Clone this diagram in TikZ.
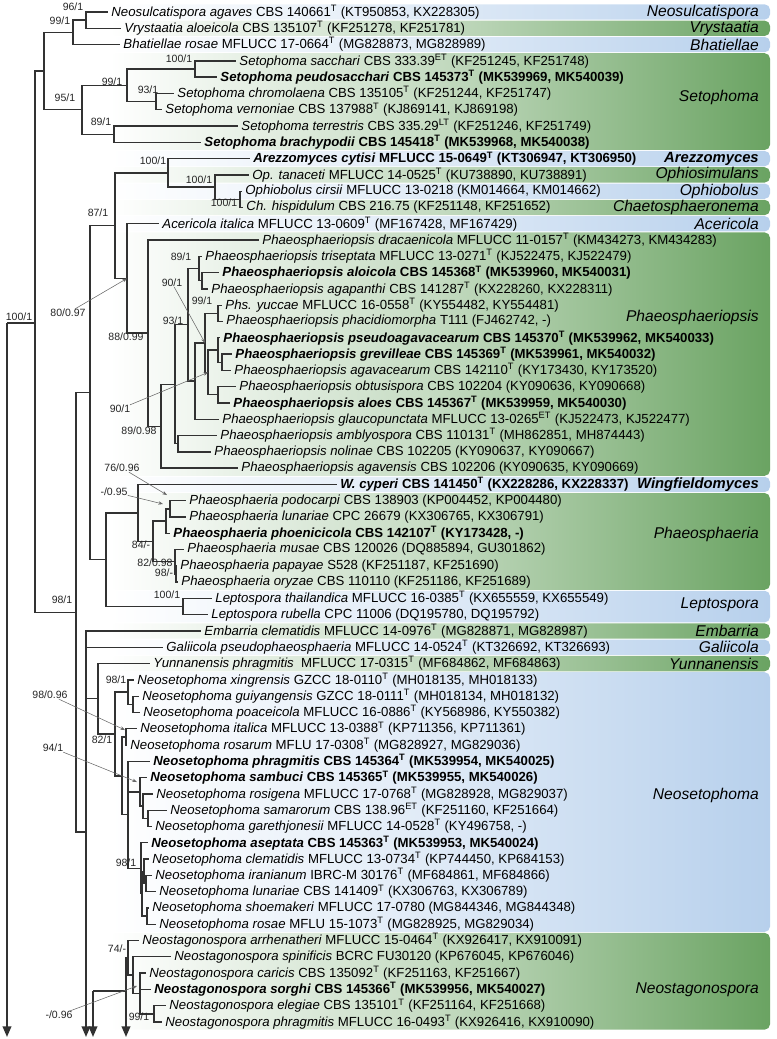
\documentclass[tikz,border=0pt]{standalone}
\usepackage{fontspec}
\setmainfont{Liberation Sans}
\usetikzlibrary{arrows.meta}
\definecolor{cladegreen}{RGB}{106,163,98}
\definecolor{cladeblue}{RGB}{183,208,236}
\definecolor{branchgray}{RGB}{50,50,50}

\begin{document}
\begin{tikzpicture}[x=0.75pt, y={(0pt,-12.2175pt)},
    br/.style={draw=branchgray, line width=1pt},
    down/.style={draw=branchgray, line width=1.3pt, -{Triangle[length=8pt,width=6.5pt]}},
    lead/.style={draw=black!60, line width=0.4pt, -{Stealth[length=3.5pt,width=2.6pt]}},
    tx/.style={anchor=west, inner xsep=2.4pt, inner ysep=0pt, font=\fontsize{9.9}{12}\selectfont},
    txb/.style={tx, font=\fontsize{9.9}{12}\selectfont\bfseries},
    bs/.style={inner sep=0pt, font=\fontsize{7.9}{9}\selectfont, text=black!85},
    clade/.style={anchor=east, inner sep=0pt, font=\fontsize{11.7}{14}\selectfont\itshape},
    cladeb/.style={clade, font=\fontsize{11.1}{14}\selectfont\bfseries\itshape},
    greenbox/.style={left color=white, right color=cladegreen, middle color=cladegreen!40!white, rounded corners=4pt},
    bluebox/.style={left color=white, right color=cladeblue, middle color=cladeblue!45!white, rounded corners=4pt}]

    \useasboundingbox (0,0.2634) rectangle (776,64.045);

    % Genus boxes
    \shade[bluebox] (110,0.53) rectangle (770,1.47);
    \shade[greenbox] (110,1.53) rectangle (770,2.47);
    \shade[bluebox] (110,2.53) rectangle (770,3.47);
    \shade[greenbox] (110,3.53) rectangle (770,9.47);
    \shade[bluebox] (110,9.53) rectangle (770,10.47);
    \shade[greenbox] (110,10.53) rectangle (770,11.47);
    \shade[bluebox] (110,11.53) rectangle (770,12.47);
    \shade[greenbox] (110,12.53) rectangle (770,13.47);
    \shade[bluebox] (110,13.53) rectangle (770,14.47);
    \shade[greenbox] (110,14.53) rectangle (770,29.47);
    \shade[bluebox] (110,29.53) rectangle (770,30.47);
    \shade[greenbox] (110,30.53) rectangle (770,36.47);
    \shade[bluebox] (110,36.53) rectangle (770,38.47);
    \shade[greenbox] (110,38.53) rectangle (770,39.47);
    \shade[bluebox] (110,39.53) rectangle (770,40.47);
    \shade[greenbox] (110,40.53) rectangle (770,41.47);
    \shade[bluebox] (110,41.53) rectangle (770,57.47);
    \shade[greenbox] (110,57.53) rectangle (770,63.47);

    % Genus names
    \node[clade] (g1) at (759,1) {Neosulcatispora};
    \node[clade] (g2) at (759,2) {Vrystaatia};
    \node[clade] (g3) at (759,3) {Bhatiellae};
    \node[clade] (g4) at (759,6.218) {Setophoma};
    \node[cladeb] (g5) at (759,10) {Arezzomyces};
    \node[clade] (g6) at (759,11) {Ophiosimulans};
    \node[clade] (g7) at (759,12) {Ophiobolus};
    \node[clade] (g8) at (759,13) {Chaetosphaeronema};
    \node[clade] (g9) at (759,14) {Acericola};
    \node[clade] (g10) at (759,19.723) {Phaeosphaeriopsis};
    \node[cladeb] (g11) at (759,30) {Wingfieldomyces};
    \node[clade] (g12) at (759,33.1) {Phaeosphaeria};
    \node[clade] (g13) at (759,37.4) {Leptospora};
    \node[clade] (g14) at (759,39) {Embarria};
    \node[clade] (g15) at (759,40) {Galiicola};
    \node[clade] (g16) at (759,41) {Yunnanensis};
    \node[clade] (g17) at (759,49.07) {Neosetophoma};
    \node[clade] (g18) at (759,61.04) {Neostagonospora};

    % Taxa
    \node[tx] (t1) at (108,1) {\textit{Neosulcatispora agaves} CBS 140661\textsuperscript{T} (KT950853, KX228305)};
    \node[tx] (t2) at (121,2) {\textit{Vrystaatia aloeicola} CBS 135107\textsuperscript{T} (KF251278, KF251781)};
    \node[tx] (t3) at (120,3) {\textit{Bhatiellae rosae} MFLUCC 17-0664\textsuperscript{T} (MG828873, MG828989)};
    \node[tx] (t4) at (236,4) {\textit{Setophoma sacchari} CBS 333.39\textsuperscript{ET} (KF251245, KF251748)};
    \node[txb] (t5) at (217,5) {\textit{Setophoma peudosacchari} CBS 145373\textsuperscript{T} (MK539969, MK540039)};
    \node[tx] (t6) at (174,6) {\textit{Setophoma chromolaena} CBS 135105\textsuperscript{T} (KF251244, KF251747)};
    \node[tx] (t7) at (162,7) {\textit{Setophoma vernoniae} CBS 137988\textsuperscript{T} (KJ869141, KJ869198)};
    \node[tx] (t8) at (238,8) {\textit{Setophoma terrestris} CBS 335.29\textsuperscript{LT} (KF251246, KF251749)};
    \node[txb] (t9) at (201,9) {\textit{Setophoma brachypodii} CBS 145418\textsuperscript{T} (MK539968, MK540038)};
    \node[txb] (t10) at (250,10) {\textit{Arezzomyces cytisi} MFLUCC 15-0649\textsuperscript{T} (KT306947, KT306950)};
    \node[tx] (t11) at (249,11) {\textit{Op. tanaceti} MFLUCC 14-0525\textsuperscript{T} (KU738890, KU738891)};
    \node[tx] (t12) at (242,12) {\textit{Ophiobolus cirsii} MFLUCC 13-0218 (KM014664, KM014662)};
    \node[tx] (t13) at (243,13) {\textit{Ch. hispidulum} CBS 216.75 (KF251148, KF251652)};
    \node[tx] (t14) at (159,14) {\textit{Acericola italica} MFLUCC 13-0609\textsuperscript{T} (MF167428, MF167429)};
    \node[tx] (t15) at (259,15) {\textit{Phaeosphaeriopsis dracaenicola} MFLUCC 11-0157\textsuperscript{T} (KM434273, KM434283)};
    \node[tx] (t16) at (202,16) {\textit{Phaeosphaeriopsis triseptata} MFLUCC 13-0271\textsuperscript{T} (KJ522475, KJ522479)};
    \node[txb] (t17) at (219,17) {\textit{Phaeosphaeriopsis aloicola} CBS 145368\textsuperscript{T} (MK539960, MK540031)};
    \node[tx] (t18) at (208,18) {\textit{Phaeosphaeriopsis agapanthi} CBS 141287\textsuperscript{T} (KX228260, KX228311)};
    \node[tx] (t19) at (222,19) {\textit{Phs. yuccae} MFLUCC 16-0558\textsuperscript{T} (KY554482, KY554481)};
    \node[tx] (t20) at (223,20) {\textit{Phaeosphaeriopsis phacidiomorpha} T111 (FJ462742, -)};
    \node[txb] (t21) at (220,21) {\textit{Phaeosphaeriopsis pseudoagavacearum} CBS 145370\textsuperscript{T} (MK539962, MK540033)};
    \node[txb] (t22) at (232,22) {\textit{Phaeosphaeriopsis grevilleae} CBS 145369\textsuperscript{T} (MK539961, MK540032)};
    \node[tx] (t23) at (231,23) {\textit{Phaeosphaeriopsis agavacearum} CBS 142110\textsuperscript{T} (KY173430, KY173520)};
    \node[tx] (t24) at (236,24) {\textit{Phaeosphaeriopsis obtusispora} CBS 102204 (KY090636, KY090668)};
    \node[txb] (t25) at (230,25) {\textit{Phaeosphaeriopsis aloes} CBS 145367\textsuperscript{T} (MK539959, MK540030)};
    \node[tx] (t26) at (219,26) {\textit{Phaeosphaeriopsis glaucopunctata} MFLUCC 13-0265\textsuperscript{ET} (KJ522473, KJ522477)};
    \node[tx] (t27) at (217,27) {\textit{Phaeosphaeriopsis amblyospora} CBS 110131\textsuperscript{T} (MH862851, MH874443)};
    \node[tx] (t28) at (211,28) {\textit{Phaeosphaeriopsis nolinae} CBS 102205 (KY090637, KY090667)};
    \node[tx] (t29) at (238,29) {\textit{Phaeosphaeriopsis agavensis} CBS 102206 (KY090635, KY090669)};
    \node[txb] (t30) at (337,30) {\textit{W. cyperi} CBS 141450\textsuperscript{T} (KX228286, KX228337)};
    \node[tx] (t31) at (186,31) {\textit{Phaeosphaeria podocarpi} CBS 138903 (KP004452, KP004480)};
    \node[tx] (t32) at (186,32) {\textit{Phaeosphaeria lunariae} CPC 26679 (KX306765, KX306791)};
    \node[txb] (t33) at (170,33) {\textit{Phaeosphaeria phoenicicola} CBS 142107\textsuperscript{T} (KY173428, -)};
    \node[tx] (t34) at (184,34) {\textit{Phaeosphaeria musae} CBS 120026 (DQ885894, GU301862)};
    \node[tx] (t35) at (177,35) {\textit{Phaeosphaeria papayae} S528 (KF251187, KF251690)};
    \node[tx] (t36) at (178,36) {\textit{Phaeosphaeria oryzae} CBS 110110 (KF251186, KF251689)};
    \node[tx] (t37) at (212,37) {\textit{Leptospora thailandica} MFLUCC 16-0385\textsuperscript{T} (KX655559, KX655549)};
    \node[tx] (t38) at (208,38) {\textit{Leptospora rubella} CPC 11006 (DQ195780, DQ195792)};
    \node[tx] (t39) at (201,39) {\textit{Embarria clematidis} MFLUCC 14-0976\textsuperscript{T} (MG828871, MG828987)};
    \node[tx] (t40) at (163,40) {\textit{Galiicola pseudophaeosphaeria} MFLUCC 14-0524\textsuperscript{T} (KT326692, KT326693)};
    \node[tx] (t41) at (150,41) {\textit{Yunnanensis phragmitis}~ MFLUCC 17-0315\textsuperscript{T} (MF684862, MF684863)};
    \node[tx] (t42) at (134,42) {\textit{Neosetophoma xingrensis} GZCC 18-0110\textsuperscript{T} (MH018135, MH018133)};
    \node[tx] (t43) at (139,43) {\textit{Neosetophoma guiyangensis} GZCC 18-0111\textsuperscript{T} (MH018134, MH018132)};
    \node[tx] (t44) at (140,44) {\textit{Neosetophoma poaceicola} MFLUCC 16-0886\textsuperscript{T} (KY568986, KY550382)};
    \node[tx] (t45) at (137,45) {\textit{Neosetophoma italica} MFLUCC 13-0388\textsuperscript{T} (KP711356, KP711361)};
    \node[tx] (t46) at (127,46) {\textit{Neosetophoma rosarum} MFLU 17-0308\textsuperscript{T} (MG828927, MG829036)};
    \node[txb] (t47) at (150,47) {\textit{Neosetophoma phragmitis} CBS 145364\textsuperscript{T} (MK539954, MK540025)};
    \node[txb] (t48) at (147,48) {\textit{Neosetophoma sambuci} CBS 145365\textsuperscript{T} (MK539955, MK540026)};
    \node[tx] (t49) at (153,49) {\textit{Neosetophoma rosigena} MFLUCC 17-0768\textsuperscript{T} (MG828928, MG829037)};
    \node[tx] (t50) at (167,50) {\textit{Neosetophoma samarorum} CBS 138.96\textsuperscript{ET} (KF251160, KF251664)};
    \node[tx] (t51) at (152,51) {\textit{Neosetophoma garethjonesii} MFLUCC 14-0528\textsuperscript{T} (KY496758, -)};
    \node[txb] (t52) at (148,52) {\textit{Neosetophoma aseptata} CBS 145363\textsuperscript{T} (MK539953, MK540024)};
    \node[tx] (t53) at (149,53) {\textit{Neosetophoma clematidis} MFLUCC 13-0734\textsuperscript{T} (KP744450, KP684153)};
    \node[tx] (t54) at (152,54) {\textit{Neosetophoma iranianum} IBRC-M 30176\textsuperscript{T} (MF684861, MF684866)};
    \node[tx] (t55) at (156,55) {\textit{Neosetophoma lunariae} CBS 141409\textsuperscript{T} (KX306763, KX306789)};
    \node[tx] (t56) at (149,56) {\textit{Neosetophoma shoemakeri} MFLUCC 17-0780 (MG844346, MG844348)};
    \node[tx] (t57) at (156,57) {\textit{Neosetophoma rosae} MFLU 15-1073\textsuperscript{T} (MG828925, MG829034)};
    \node[tx] (t58) at (139,58) {\textit{Neostagonospora arrhenatheri} MFLUCC 15-0464\textsuperscript{T} (KX926417, KX910091)};
    \node[tx] (t59) at (171,59) {\textit{Neostagonospora spinificis} BCRC FU30120 (KP676045, KP676046)};
    \node[tx] (t60) at (146,60) {\textit{Neostagonospora caricis} CBS 135092\textsuperscript{T} (KF251163, KF251667)};
    \node[txb] (t61) at (151,61) {\textit{Neostagonospora sorghi} CBS 145366\textsuperscript{T} (MK539956, MK540027)};
    \node[tx] (t62) at (166,62) {\textit{Neostagonospora elegiae} CBS 135101\textsuperscript{T} (KF251164, KF251668)};
    \node[tx] (t63) at (162,63) {\textit{Neostagonospora phragmitis} MFLUCC 16-0493\textsuperscript{T} (KX926416, KX910090)};

    % Internal nodes
    \coordinate (root0) at (7,20.09);
    \coordinate (root) at (35,20.09);
    \coordinate (n1) at (44,4.625);
    \coordinate (n2) at (73,2.25);
    \coordinate (n3) at (86,1.5);
    \coordinate (n4) at (82,7);
    \coordinate (n5) at (127,5.5);
    \coordinate (n6) at (195,4.5);
    \coordinate (n7) at (156,6.5);
    \coordinate (n8) at (114,8.5);
    \coordinate (n98) at (76,37.855);
    \coordinate (p) at (90,24.37);
    \coordinate (n87) at (115,14.116);
    \coordinate (ar) at (168,10.875);
    \coordinate (op) at (215,11.75);
    \coordinate (oc) at (240,12.5);
    \coordinate (x) at (127,17.357);
    \coordinate (y) at (148,20.713);
    \coordinate (z) at (161,26.426);
    \coordinate (z1) at (175,23.852);
    \coordinate (an) at (178,27.5);
    \coordinate (z2) at (188,20.203);
    \coordinate (tt) at (199,16.75);
    \coordinate (tt2) at (202,17.5);
    \coordinate (u) at (195,23.656);
    \coordinate (v) at (205,21.3125);
    \coordinate (y99) at (218,19.5);
    \coordinate (v2) at (208,23.125);
    \coordinate (g) at (218,21.75);
    \coordinate (g2) at (222,22.5);
    \coordinate (o) at (218,24.5);
    \coordinate (r) at (106,34.625);
    \coordinate (w) at (138,31.75);
    \coordinate (ph) at (153,33.5);
    \coordinate (pl) at (166,32.25);
    \coordinate (pp) at (170,31.5);
    \coordinate (pm) at (175,34.75);
    \coordinate (po) at (176,35.5);
    \coordinate (lep) at (183,37.5);
    \coordinate (q) at (86,51.34);
    \coordinate (yn) at (98,43.16);
    \coordinate (ns) at (115,45.32);
    \coordinate (x98) at (128,42.75);
    \coordinate (gp) at (133,43.5);
    \coordinate (m) at (122,47.89);
    \coordinate (ir) at (126,45.5);
    \coordinate (ps) at (128,50.28);
    \coordinate (sb) at (140,48.875);
    \coordinate (rs) at (143,49.75);
    \coordinate (sr) at (148,50.5);
    \coordinate (ag) at (141,53.5625);
    \coordinate (ag2) at (142,55.125);
    \coordinate (c98) at (144,53.75);
    \coordinate (il) at (146,54.5);
    \coordinate (sro) at (147,56.5);
    \coordinate (k93) at (93,61.1);
    \coordinate (k126) at (126,61.1);
    \coordinate (na) at (128,59.06);
    \coordinate (nb) at (133,60.125);
    \coordinate (nc) at (140,61.25);
    \coordinate (ne) at (154,62.5);
    \coordinate (end1) at (7,63.92);
    \coordinate (end2) at (86,63.92);
    \coordinate (end3) at (93,63.92);
    \coordinate (end4) at (126,63.92);

    % Branches
    \draw[br] (root) -- (root0);
    \draw[down] (root0) -- (end1);
    \draw[br] (root) |- (n1);
    \draw[br] (root) |- (n98);
    \draw[br] (n1) |- (n2);
    \draw[br] (n1) |- (n4);
    \draw[br] (n2) |- (n3);
    \draw[br] (n2) |- (t3.west);
    \draw[br] (n3) |- (t1.west);
    \draw[br] (n3) |- (t2.west);
    \draw[br] (n4) |- (n5);
    \draw[br] (n4) |- (n8);
    \draw[br] (n5) |- (n6);
    \draw[br] (n5) |- (n7);
    \draw[br] (n6) |- (t4.west);
    \draw[br] (n6) |- (t5.west);
    \draw[br] (n7) |- (t6.west);
    \draw[br] (n7) |- (t7.west);
    \draw[br] (n8) |- (t8.west);
    \draw[br] (n8) |- (t9.west);
    \draw[br] (n98) |- (p);
    \draw[br] (n98) |- (q);
    \draw[br] (p) |- (n87);
    \draw[br] (p) |- (r);
    \draw[br] (n87) |- (ar);
    \draw[br] (n87) |- (x);
    \draw[br] (ar) |- (t10.west);
    \draw[br] (ar) |- (op);
    \draw[br] (op) |- (t11.west);
    \draw[br] (op) |- (oc);
    \draw[br] (oc) |- (t12.west);
    \draw[br] (oc) |- (t13.west);
    \draw[br] (x) |- (t14.west);
    \draw[br] (x) |- (y);
    \draw[br] (y) |- (t15.west);
    \draw[br] (y) |- (z);
    \draw[br] (z) |- (z1);
    \draw[br] (z) |- (t29.west);
    \draw[br] (z1) |- (z2);
    \draw[br] (z1) |- (an);
    \draw[br] (an) |- (t27.west);
    \draw[br] (an) |- (t28.west);
    \draw[br] (z2) |- (tt);
    \draw[br] (z2) |- (u);
    \draw[br] (tt) |- (t16.west);
    \draw[br] (tt) |- (tt2);
    \draw[br] (tt2) |- (t17.west);
    \draw[br] (tt2) |- (t18.west);
    \draw[br] (u) |- (v);
    \draw[br] (u) |- (t26.west);
    \draw[br] (v) |- (y99);
    \draw[br] (v) |- (v2);
    \draw[br] (y99) |- (t19.west);
    \draw[br] (y99) |- (t20.west);
    \draw[br] (v2) |- (g);
    \draw[br] (v2) |- (o);
    \draw[br] (g) |- (t21.west);
    \draw[br] (g) |- (g2);
    \draw[br] (g2) |- (t22.west);
    \draw[br] (g2) |- (t23.west);
    \draw[br] (o) |- (t24.west);
    \draw[br] (o) |- (t25.west);
    \draw[br] (r) |- (w);
    \draw[br] (r) |- (lep);
    \draw[br] (w) |- (t30.west);
    \draw[br] (w) |- (ph);
    \draw[br] (ph) |- (pl);
    \draw[br] (ph) |- (pm);
    \draw[br] (pl) |- (pp);
    \draw[br] (pl) |- (t33.west);
    \draw[br] (pp) |- (t31.west);
    \draw[br] (pp) |- (t32.west);
    \draw[br] (pm) |- (t34.west);
    \draw[br] (pm) |- (po);
    \draw[br] (po) |- (t35.west);
    \draw[br] (po) |- (t36.west);
    \draw[br] (lep) |- (t37.west);
    \draw[br] (lep) |- (t38.west);
    \draw[br] (q) |- (t39.west);
    \draw[br] (q) |- (t40.west);
    \draw[br] (q) |- (yn);
    \draw[down] (q) -- (end2);
    \draw[br] (yn) |- (t41.west);
    \draw[br] (yn) |- (ns);
    \draw[br] (ns) |- (x98);
    \draw[br] (ns) |- (m);
    \draw[br] (x98) |- (t42.west);
    \draw[br] (x98) |- (gp);
    \draw[br] (gp) |- (t43.west);
    \draw[br] (gp) |- (t44.west);
    \draw[br] (m) |- (ir);
    \draw[br] (m) |- (ps);
    \draw[br] (ir) |- (t45.west);
    \draw[br] (ir) |- (t46.west);
    \draw[br] (ps) |- (t47.west);
    \draw[br] (ps) |- (sb);
    \draw[br] (ps) |- (ag);
    \draw[br] (sb) |- (t48.west);
    \draw[br] (sb) |- (rs);
    \draw[br] (rs) |- (t49.west);
    \draw[br] (rs) |- (sr);
    \draw[br] (sr) |- (t50.west);
    \draw[br] (sr) |- (t51.west);
    \draw[br] (ag) |- (t52.west);
    \draw[br] (ag) |- (ag2);
    \draw[br] (ag2) |- (c98);
    \draw[br] (ag2) |- (sro);
    \draw[br] (c98) |- (t53.west);
    \draw[br] (c98) |- (il);
    \draw[br] (il) |- (t54.west);
    \draw[br] (il) |- (t55.west);
    \draw[br] (sro) |- (t56.west);
    \draw[br] (sro) |- (t57.west);
    \draw[br] (k93) -- (k126);
    \draw[down] (k93) -- (end3);
    \draw[down] (k126) -- (end4);
    \draw[br] (k126) |- (na);
    \draw[br] (na) |- (t58.west);
    \draw[br] (na) |- (nb);
    \draw[br] (nb) |- (t59.west);
    \draw[br] (nb) |- (nc);
    \draw[br] (nc) |- (t60.west);
    \draw[br] (nc) |- (t61.west);
    \draw[br] (nc) |- (ne);
    \draw[br] (ne) |- (t62.west);
    \draw[br] (ne) |- (t63.west);

    % Support values
    \node[bs] (b1) at (73,0.693) {96/1};
    \node[bs] (b2) at (60,1.552) {99/1};
    \node[bs] (b3) at (65,6.279) {95/1};
    \node[bs] (b4) at (179,3.885) {100/1};
    \node[bs] (b5) at (112,5.297) {99/1};
    \node[bs] (b6) at (148,5.788) {93/1};
    \node[bs] (b7) at (101,7.753) {89/1};
    \node[bs] (b8) at (153,10.147) {100/1};
    \node[bs] (b9) at (199,11.313) {100/1};
    \node[bs] (b10) at (224,12.725) {100/1};
    \node[bs] (b11) at (98,13.339) {87/1};
    \node[bs] (b12) at (68,19.478) {80/0.97};
    \node[bs] (b13) at (181,16.04) {89/1};
    \node[bs] (b14) at (172,17.636) {90/1};
    \node[bs] (b15) at (202,18.741) {99/1};
    \node[bs] (b16) at (173,19.969) {93/1};
    \node[bs] (b17) at (126,20.951) {88/0.99};
    \node[bs] (b18) at (120,25.371) {90/1};
    \node[bs] (b19) at (139,26.721) {89/0.98};
    \node[bs] (b20) at (122,28.993) {76/0.96};
    \node[bs] (b21) at (114,30.466) {-/0.95};
    \node[bs] (b22) at (141,33.72) {84/-};
    \node[bs] (b23) at (155,34.825) {82/0.98};
    \node[bs] (b24) at (164,35.439) {98/-};
    \node[bs] (b25) at (167,36.789) {100/1};
    \node[bs] (b26) at (62,37.096) {98/1};
    \node[bs] (b27) at (116,42.007) {98/1};
    \node[bs] (b28) at (19,19.723) {100/1};
    \node[bs] (b29) at (50,42.928) {98/0.96};
    \node[bs] (b30) at (102,45.69) {82/1};
    \node[bs] (b31) at (53,46.181) {94/1};
    \node[bs] (b32) at (126,53.24) {98/1};
    \node[bs] (b33) at (117,58.52) {74/-};
    \node[bs] (b34) at (59,62.571) {-/0.96};
    \node[bs] (b35) at (139,62.694) {99/1};

    % Leaders to crowded nodes
    \coordinate (k76) at (167,30.65);
    \coordinate (k95) at (163,31.203);
    \coordinate (k9896) at (125,45.077);
    \coordinate (k94) at (137,48.269);
    \coordinate (k096) at (137,60.79);
    \draw[lead] (b12) -- (x);
    \draw[lead] (b14) -- (v);
    \draw[lead] (b18) -- (v2);
    \draw[lead] (b20) -- (k76);
    \draw[lead] (b21) -- (k95);
    \draw[lead] (b29) -- (k9896);
    \draw[lead] (b31) -- (k94);
    \draw[lead] (b34) -- (k096);
\end{tikzpicture}
\end{document}
